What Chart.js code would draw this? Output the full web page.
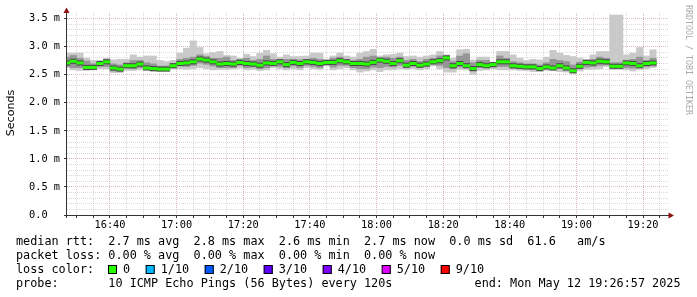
<!DOCTYPE html>
<html>
<head>
<meta charset="utf-8">
<script src="https://cdn.jsdelivr.net/npm/chart.js@4.4.1/dist/chart.umd.min.js"></script>
<style>
  html, body { margin: 0; padding: 0; background: #fff; }
</style>
</head>
<body>
<canvas id="smoke" width="697" height="297"></canvas>
<script>
// time axis in minutes after 16:00, one sample every 2 minutes
const firstSample = 27;
const sampleStep = 2;
const axisStart = 27.1;
const axisEnd = 207.8;

// median rtt per sample (ms)
const medianRtt = [
  2.71, 2.74, 2.71, 2.63, 2.63, 2.70, 2.73, 2.62, 2.60, 2.66, 2.66, 2.69, 2.62, 2.61, 2.60,
  2.60, 2.66, 2.70, 2.71, 2.73, 2.78, 2.76, 2.73, 2.69, 2.70, 2.69, 2.72, 2.70, 2.69, 2.67, 2.71,
  2.70, 2.73, 2.68, 2.72, 2.70, 2.73, 2.72, 2.70, 2.72, 2.72, 2.75, 2.73, 2.70, 2.70, 2.69,
  2.72, 2.76, 2.74, 2.70, 2.75, 2.67, 2.70, 2.67, 2.69, 2.73, 2.75, 2.80, 2.66, 2.70, 2.66,
  2.61, 2.68, 2.66, 2.68, 2.73, 2.73, 2.66, 2.65, 2.64, 2.64, 2.61, 2.64, 2.62, 2.66, 2.62,
  2.57, 2.65, 2.72, 2.71, 2.74, 2.73, 2.65, 2.65, 2.71, 2.70, 2.66, 2.70, 2.71
];

// outer smoke: fastest and slowest ping per sample (ms)
const smokeHigh = [
  2.89, 2.89, 2.89, 2.80, 2.76, 2.76, 2.80, 2.77, 2.78, 2.78, 2.86, 2.82, 2.84, 2.84, 2.76,
  2.74, 2.76, 2.89, 2.98, 3.11, 2.99, 2.88, 2.90, 2.92, 2.85, 2.84, 2.80, 2.87, 2.83, 2.89, 2.94,
  2.88, 2.82, 2.86, 2.83, 2.83, 2.84, 2.89, 2.89, 2.78, 2.84, 2.89, 2.84, 2.82, 2.89, 2.92,
  2.96, 2.84, 2.86, 2.87, 2.89, 2.83, 2.84, 2.82, 2.84, 2.86, 2.92, 2.86, 2.80, 2.95, 2.96,
  2.77, 2.82, 2.82, 2.72, 2.92, 2.92, 2.86, 2.80, 2.76, 2.78, 2.77, 2.82, 2.94, 2.89, 2.85,
  2.83, 2.80, 2.78, 2.86, 2.92, 2.92, 3.57, 3.57, 2.86, 2.89, 2.99, 2.84, 2.95
];
const smokeLow = [
  2.62, 2.58, 2.57, 2.57, 2.58, 2.60, 2.60, 2.53, 2.53, 2.57, 2.57, 2.58, 2.58, 2.55, 2.56,
  2.59, 2.60, 2.60, 2.59, 2.60, 2.62, 2.60, 2.58, 2.59, 2.59, 2.60, 2.61, 2.58, 2.59, 2.57, 2.58,
  2.62, 2.60, 2.58, 2.60, 2.58, 2.62, 2.60, 2.59, 2.65, 2.58, 2.60, 2.62, 2.58, 2.54, 2.56,
  2.58, 2.55, 2.58, 2.58, 2.60, 2.59, 2.60, 2.58, 2.60, 2.65, 2.60, 2.54, 2.54, 2.59, 2.58,
  2.50, 2.57, 2.58, 2.60, 2.58, 2.58, 2.58, 2.57, 2.57, 2.55, 2.55, 2.57, 2.57, 2.55, 2.54,
  2.52, 2.56, 2.59, 2.59, 2.60, 2.64, 2.59, 2.59, 2.58, 2.56, 2.59, 2.60, 2.62
];

// inner smoke: middle pings per sample (ms)
const coreHigh = [
  2.82, 2.85, 2.80, 2.75, 2.70, 2.74, 2.78, 2.70, 2.68, 2.72, 2.76, 2.76, 2.72, 2.70, 2.66,
  2.66, 2.71, 2.78, 2.80, 2.82, 2.86, 2.83, 2.80, 2.80, 2.82, 2.76, 2.78, 2.80, 2.76, 2.78, 2.84,
  2.78, 2.78, 2.78, 2.78, 2.77, 2.78, 2.80, 2.78, 2.76, 2.80, 2.82, 2.78, 2.76, 2.78, 2.82,
  2.84, 2.80, 2.82, 2.80, 2.82, 2.76, 2.78, 2.74, 2.78, 2.80, 2.84, 2.84, 2.74, 2.84, 2.88,
  2.72, 2.76, 2.76, 2.71, 2.84, 2.80, 2.74, 2.72, 2.70, 2.70, 2.68, 2.72, 2.78, 2.76, 2.74,
  2.68, 2.73, 2.76, 2.78, 2.82, 2.80, 2.72, 2.72, 2.76, 2.78, 2.82, 2.76, 2.80
];
const coreLow = [
  2.64, 2.62, 2.62, 2.59, 2.60, 2.64, 2.64, 2.56, 2.56, 2.61, 2.60, 2.62, 2.60, 2.58, 2.58,
  2.59, 2.62, 2.65, 2.64, 2.66, 2.70, 2.68, 2.65, 2.62, 2.62, 2.62, 2.66, 2.62, 2.63, 2.60, 2.62,
  2.65, 2.64, 2.62, 2.65, 2.62, 2.66, 2.64, 2.62, 2.67, 2.63, 2.66, 2.66, 2.62, 2.60, 2.60,
  2.63, 2.62, 2.64, 2.63, 2.66, 2.62, 2.64, 2.62, 2.64, 2.68, 2.66, 2.62, 2.60, 2.63, 2.62,
  2.56, 2.62, 2.62, 2.63, 2.64, 2.64, 2.61, 2.60, 2.60, 2.59, 2.58, 2.60, 2.59, 2.60, 2.58,
  2.55, 2.60, 2.63, 2.64, 2.66, 2.67, 2.62, 2.62, 2.62, 2.61, 2.62, 2.64, 2.65
];

const xTickLabels = ['16:40', '17:00', '17:20', '17:40', '18:00', '18:20', '18:40', '19:00', '19:20'];
const yTickLabels = ['0.0  ', '0.5 m', '1.0 m', '1.5 m', '2.0 m', '2.5 m', '3.0 m', '3.5 m'];

const rttLine = 'median rtt:  2.7 ms avg  2.8 ms max  2.6 ms min  2.7 ms now  0.0 ms sd  61.6   am/s';
const lossLine = 'packet loss: 0.00 % avg  0.00 % max  0.00 % min  0.00 % now';
const lossLabels = ['0', '1/10', '2/10', '3/10', '4/10', '5/10', '9/10'];
const lossColors = ['#26ff00', '#00b8ff', '#0059ff', '#5e00ff', '#7e00ff', '#dd00ff', '#ff0000'];
const probeLine = 'probe:       10 ICMP Echo Pings (56 Bytes) every 120s';
const endLine = 'end: Mon May 12 19:26:57 2025';

const sampleTimes = medianRtt.map((_, i) => firstSample + i * sampleStep);

function toMinutes(label) {
    const [h, m] = label.split(':').map(Number);
    return (h - 16) * 60 + m;
}
const majorX = xTickLabels.map(toMinutes);

function band(lo, hi) {
    return lo.map((v, i) => ({ x: sampleTimes[i], y: [v, hi[i]] }));
}
// thick line around a value, drawn as a thin floating bar
function around(values, half) {
    return values.map((v, i) => ({ x: sampleTimes[i], y: [v - half, v + half] }));
}

const gridGrey = 'rgba(140,140,140,0.32)';
const gridRed = 'rgba(130,30,30,0.3)';
const axisFont = { family: "'DejaVu Sans Mono', monospace", size: 10.3 };
const legendFont = "11.8px 'DejaVu Sans Mono', monospace";

const decor = {
    id: 'decor',
    afterDraw(chart) {
        const { ctx, chartArea: a } = chart;
        ctx.save();

        // axes
        ctx.strokeStyle = '#333';
        ctx.lineWidth = 1;
        ctx.beginPath();
        ctx.moveTo(a.left - 0.5, 9);
        ctx.lineTo(a.left - 0.5, a.bottom + 3);
        ctx.moveTo(a.left - 3, a.bottom + 0.5);
        ctx.lineTo(a.right + 1, a.bottom + 0.5);
        ctx.stroke();

        // arrows
        ctx.fillStyle = '#8b1010';
        ctx.beginPath();
        ctx.moveTo(a.left - 0.5, 7.5);
        ctx.lineTo(a.left + 2.5, 13);
        ctx.lineTo(a.left - 3.5, 13);
        ctx.closePath();
        ctx.fill();
        ctx.beginPath();
        ctx.moveTo(a.right + 5, a.bottom + 0.5);
        ctx.lineTo(a.right - 0.5, a.bottom - 2.5);
        ctx.lineTo(a.right - 0.5, a.bottom + 3.5);
        ctx.closePath();
        ctx.fill();

        // unit label
        ctx.fillStyle = '#000';
        ctx.font = "11.1px 'DejaVu Sans', sans-serif";
        ctx.textAlign = 'center';
        ctx.textBaseline = 'middle';
        ctx.translate(11, 113);
        ctx.rotate(-Math.PI / 2);
        ctx.fillText('Seconds', 0, 0);
        ctx.setTransform(1, 0, 0, 1, 0, 0);

        // watermark
        ctx.fillStyle = '#aaaaaa';
        ctx.font = "8.3px 'DejaVu Sans Mono', monospace";
        ctx.textAlign = 'left';
        ctx.translate(688.5, 5);
        ctx.rotate(Math.PI / 2);
        ctx.fillText('RRDTOOL / TOBI OETIKER', 0, 0);
        ctx.setTransform(1, 0, 0, 1, 0, 0);

        // legend text
        ctx.font = legendFont;
        ctx.textBaseline = 'alphabetic';
        ctx.fillStyle = '#000';
        ctx.fillText(rttLine, 16, 245);
        ctx.fillText(lossLine, 16, 259.1);
        ctx.fillText('loss color:', 16, 273.2);
        let x = 108;
        lossLabels.forEach((lab, i) => {
            ctx.fillStyle = lossColors[i];
            ctx.fillRect(x, 265, 9, 9);
            ctx.strokeStyle = '#000';
            ctx.strokeRect(x + 0.5, 265.5, 8, 8);
            ctx.fillStyle = '#000';
            ctx.fillText(lab, x + 15, 273.2);
            x += 15 + ctx.measureText(lab).width + 15.6;
        });
        ctx.fillText(probeLine, 16, 287.3);
        ctx.textAlign = 'right';
        ctx.fillText(endLine, 680.5, 287.3);

        ctx.restore();
    }
};

new Chart(document.getElementById('smoke'), {
    type: 'bar',
    data: {
        datasets: [
            { label: 'median', data: around(medianRtt, 0.027), backgroundColor: '#26ff00', order: 0 },
            { label: 'core', data: around(medianRtt, 0.045), backgroundColor: '#484848', order: 1 },
            { label: 'inner smoke', data: band(coreLow, coreHigh), backgroundColor: '#969696', order: 2 },
            { label: 'outer smoke', data: band(smokeLow, smokeHigh), backgroundColor: '#c9c9c9', order: 3 }
        ]
    },
    options: {
        responsive: false,
        animation: false,
        layout: { padding: { top: 13, right: 28, left: 0, bottom: 0 } },
        datasets: { bar: { grouped: false, barPercentage: 1.06, categoryPercentage: 1, borderWidth: 0 } },
        plugins: { legend: { display: false }, tooltip: { enabled: false } },
        scales: {
            x: {
                type: 'linear',
                min: axisStart,
                max: axisEnd,
                offset: false,
                afterBuildTicks: s => {
                    const t = [];
                    for (let m = 30; m <= 205; m += 5) t.push({ value: m });
                    s.ticks = t;
                },
                afterFit: s => { s.height = 82; },
                grid: {
                    offset: false,
                    color: c => majorX.includes(c.tick.value) ? gridRed : gridGrey,
                    tickColor: '#333',
                    tickLength: 3
                },
                border: { display: false, dash: [1, 1] },
                ticks: {
                    autoSkip: false,
                    maxRotation: 0,
                    padding: 1,
                    color: '#000',
                    font: axisFont,
                    callback: v => {
                        const i = majorX.indexOf(v);
                        return i >= 0 ? xTickLabels[i] : '';
                    }
                }
            },
            y: {
                min: 0,
                max: 3.6,
                afterBuildTicks: s => {
                    const t = [];
                    for (let i = 0; i <= 35; i++) t.push({ value: i / 10 });
                    s.ticks = t;
                },
                afterFit: s => { s.width = 67; },
                grid: {
                    color: c => Math.round(c.tick.value * 10) % 5 === 0 ? gridRed : gridGrey,
                    tickColor: c => Math.round(c.tick.value * 10) % 5 === 0 ? '#333' : 'rgba(0,0,0,0)',
                    tickLength: 3
                },
                border: { display: false, dash: [1, 1] },
                ticks: {
                    autoSkip: false,
                    padding: 4,
                    color: '#000',
                    font: axisFont,
                    callback: v => {
                        const k = Math.round(v * 10);
                        return k % 5 === 0 ? yTickLabels[k / 5] : '';
                    }
                }
            }
        }
    },
    plugins: [decor]
});
</script>
</body>
</html>
